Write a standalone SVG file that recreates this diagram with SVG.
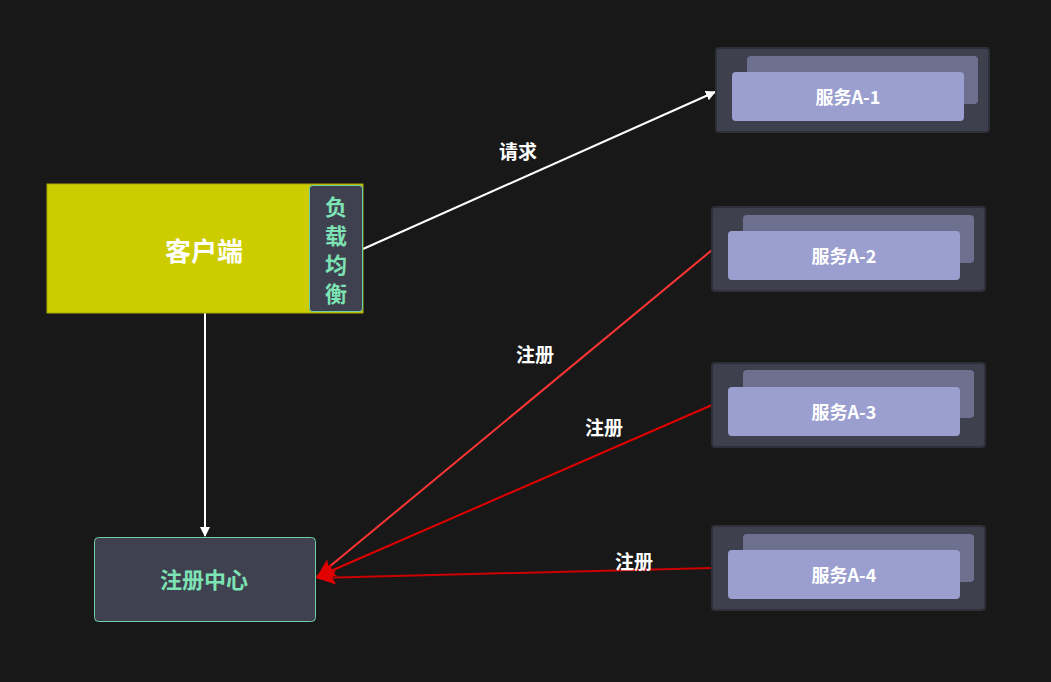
<svg xmlns="http://www.w3.org/2000/svg" width="1051" height="682" viewBox="0 0 1051 682">
<defs>
<style>
.t{font-family:"Noto Sans CJK SC","Noto Sans",sans-serif;font-weight:bold;text-anchor:middle;dominant-baseline:central}
.outer{fill:#3f404e;stroke:#2e2f38;stroke-width:2}
.back{fill:#6e7090}
.front{fill:#9b9fcf}
.svc{fill:#ffffff;font-size:18px}
.lbl{fill:#ffffff;font-size:19px}
</style>
<marker id="aw" viewBox="0 0 10 10" refX="9" refY="5" markerWidth="10" markerHeight="10" markerUnits="userSpaceOnUse" orient="auto"><path d="M0,0 L10,5 L0,10 Z" fill="#ffffff"/></marker>
<marker id="ar" viewBox="0 0 20 14" refX="19" refY="7" markerWidth="20" markerHeight="14" markerUnits="userSpaceOnUse" orient="auto"><path d="M0,0 L20,7 L0,14 L4,7 Z" fill="#e00000"/></marker>
</defs>
<rect width="1051" height="682" fill="#181818"/>
<g id="connectors">
<line x1="363" y1="249" x2="715" y2="92" stroke="#ffffff" stroke-width="2" marker-end="url(#aw)"/>
<line x1="205" y1="313" x2="205" y2="536" stroke="#ffffff" stroke-width="2" marker-end="url(#aw)"/>
<line x1="712" y1="250" x2="317" y2="577" stroke="#ff3535" stroke-width="2" marker-end="url(#ar)"/>
<line x1="712" y1="405" x2="317" y2="577" stroke="#e00000" stroke-width="2" marker-end="url(#ar)"/>
<line x1="712" y1="568" x2="317" y2="578" stroke="#cc0000" stroke-width="2" marker-end="url(#ar)"/>
<text class="t lbl" x="518" y="150">请求</text>
<text class="t lbl" x="535" y="353">注册</text>
<text class="t lbl" x="604" y="426">注册</text>
<text class="t lbl" x="634" y="560">注册</text>
</g>
<g id="client">
<rect x="47" y="184" width="316" height="129" fill="#cccc00" stroke="#a8a800" stroke-width="1"/>
<text class="t" x="204" y="249" fill="#ffffff" font-size="26">客户端</text>
</g>
<g id="lb">
<rect x="309.5" y="185.5" width="53" height="126" rx="3" fill="#3f4150" stroke="#6fcfa6" stroke-width="1"/>
<text class="t" fill="#7de3b4" font-size="22"><tspan x="336" y="205">负</tspan><tspan x="336" y="234">载</tspan><tspan x="336" y="263">均</tspan><tspan x="336" y="292">衡</tspan></text>
</g>
<g id="registry">
<rect x="94.5" y="537.5" width="221" height="84" rx="4" fill="#3f4150" stroke="#6fcfa6" stroke-width="1"/>
<text class="t" x="204" y="578" fill="#7de3b4" font-size="22">注册中心</text>
</g>
<g id="svcA1">
<rect class="outer" x="716" y="48" width="273" height="84" rx="3"/>
<rect class="back" x="747" y="56" width="231" height="48" rx="4"/>
<rect class="front" x="732" y="72" width="232" height="49" rx="4"/>
<text class="t svc" x="848" y="96">服务A-1</text>
</g>
<g id="svcA2">
<rect class="outer" x="712" y="207" width="273" height="84" rx="3"/>
<rect class="back" x="743" y="215" width="231" height="48" rx="4"/>
<rect class="front" x="728" y="231" width="232" height="49" rx="4"/>
<text class="t svc" x="844" y="255">服务A-2</text>
</g>
<g id="svcA3">
<rect class="outer" x="712" y="363" width="273" height="84" rx="3"/>
<rect class="back" x="743" y="370" width="231" height="48" rx="4"/>
<rect class="front" x="728" y="387" width="232" height="49" rx="4"/>
<text class="t svc" x="844" y="411">服务A-3</text>
</g>
<g id="svcA4">
<rect class="outer" x="712" y="526" width="273" height="84" rx="3"/>
<rect class="back" x="743" y="534" width="231" height="48" rx="4"/>
<rect class="front" x="728" y="550" width="232" height="49" rx="4"/>
<text class="t svc" x="844" y="574">服务A-4</text>
</g>
</svg>
